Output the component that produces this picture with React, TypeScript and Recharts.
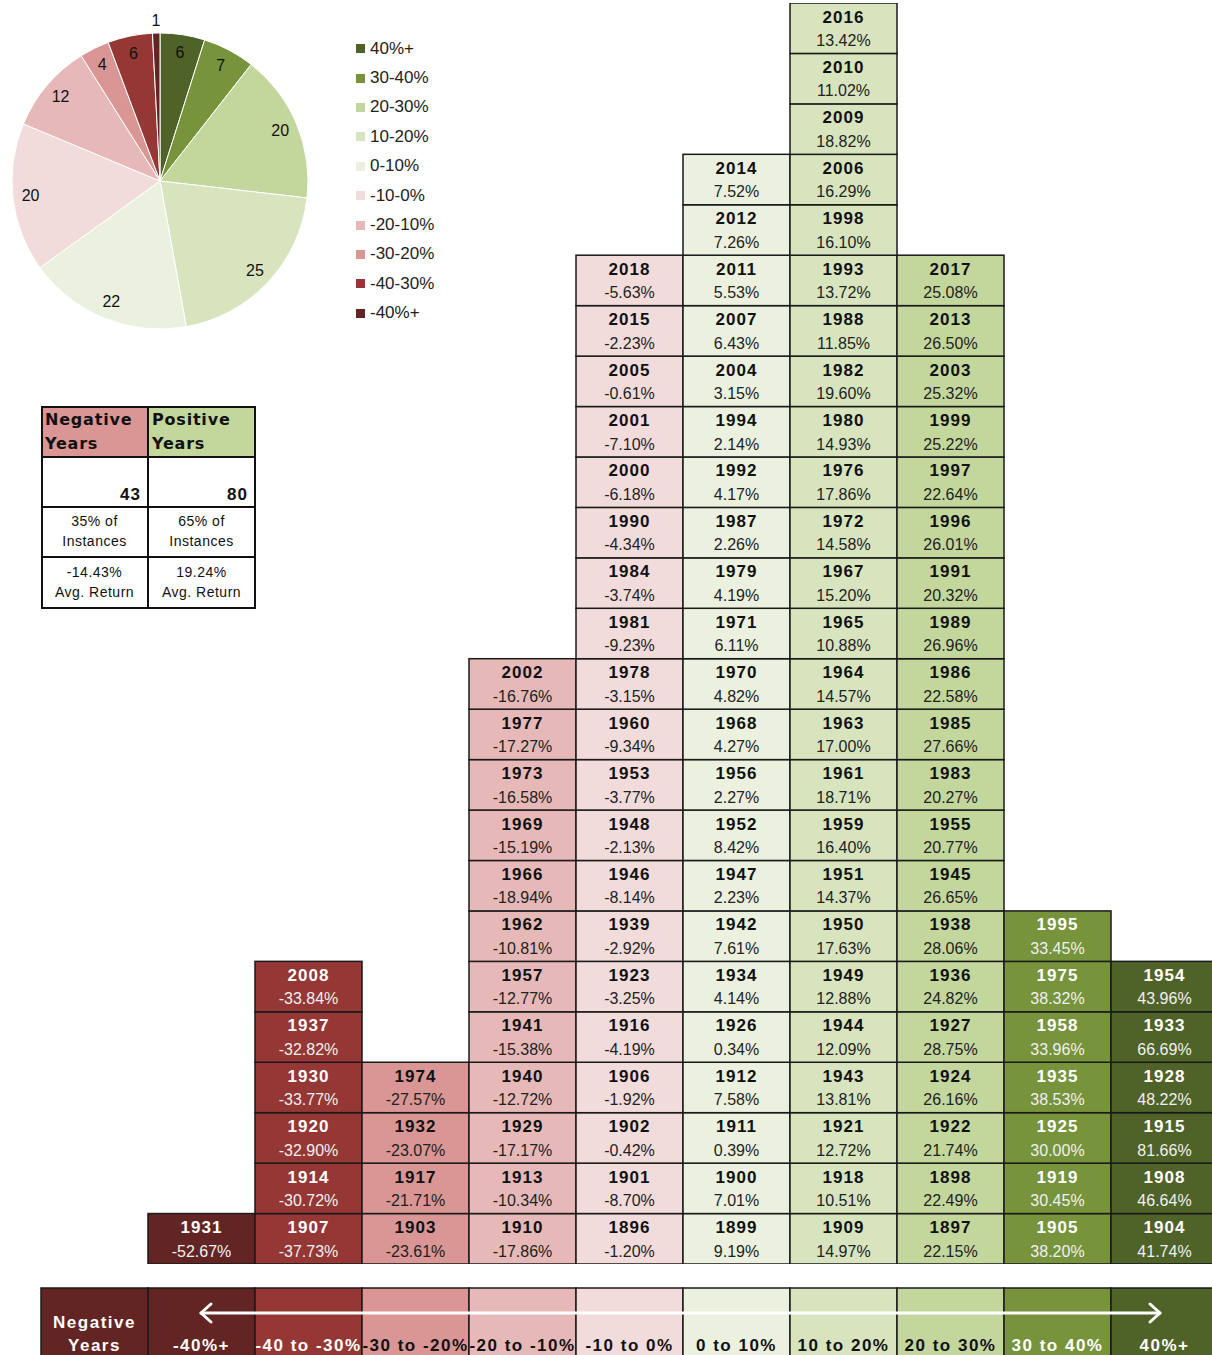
import { BarChart, Bar, XAxis, YAxis, PieChart, Pie, Cell } from "recharts";

// ---- buckets (left to right) ----
const BUCKETS = [
  "-40%+", "-40 to -30%", "-30 to -20%", "-20 to -10%", "-10 to 0%",
  "0 to 10%", "10 to 20%", "20 to 30%", "30 to 40%", "40%+",
];
const PIE_LABELS = [
  "-40%+", "-40-30%", "-30-20%", "-20-10%", "-10-0%",
  "0-10%", "10-20%", "20-30%", "30-40%", "40%+",
];
const COLORS = [
  "#632523", "#953735", "#d99694", "#e6b9b8", "#f2dcdb",
  "#ebf1de", "#d7e4bd", "#c3d69b", "#77933c", "#4f6228",
];
const DARK = [true, true, false, false, false, false, false, false, true, true];

// ---- years per bucket, listed top to bottom as in the grid: [year, return %] ----
const colNeg40Plus: [number, number][] = [[1931, -52.67]];
const colNeg40to30: [number, number][] = [
  [2008, -33.84], [1937, -32.82], [1930, -33.77], [1920, -32.9], [1914, -30.72], [1907, -37.73],
];
const colNeg30to20: [number, number][] = [
  [1974, -27.57], [1932, -23.07], [1917, -21.71], [1903, -23.61],
];
const colNeg20to10: [number, number][] = [
  [2002, -16.76], [1977, -17.27], [1973, -16.58], [1969, -15.19], [1966, -18.94], [1962, -10.81],
  [1957, -12.77], [1941, -15.38], [1940, -12.72], [1929, -17.17], [1913, -10.34], [1910, -17.86],
];
const colNeg10to0: [number, number][] = [
  [2018, -5.63], [2015, -2.23], [2005, -0.61], [2001, -7.1], [2000, -6.18], [1990, -4.34],
  [1984, -3.74], [1981, -9.23], [1978, -3.15], [1960, -9.34], [1953, -3.77], [1948, -2.13],
  [1946, -8.14], [1939, -2.92], [1923, -3.25], [1916, -4.19], [1906, -1.92], [1902, -0.42],
  [1901, -8.7], [1896, -1.2],
];
const col0to10: [number, number][] = [
  [2014, 7.52], [2012, 7.26], [2011, 5.53], [2007, 6.43], [2004, 3.15], [1994, 2.14],
  [1992, 4.17], [1987, 2.26], [1979, 4.19], [1971, 6.11], [1970, 4.82], [1968, 4.27],
  [1956, 2.27], [1952, 8.42], [1947, 2.23], [1942, 7.61], [1934, 4.14], [1926, 0.34],
  [1912, 7.58], [1911, 0.39], [1900, 7.01], [1899, 9.19],
];
const col10to20: [number, number][] = [
  [2016, 13.42], [2010, 11.02], [2009, 18.82], [2006, 16.29], [1998, 16.1], [1993, 13.72],
  [1988, 11.85], [1982, 19.6], [1980, 14.93], [1976, 17.86], [1972, 14.58], [1967, 15.2],
  [1965, 10.88], [1964, 14.57], [1963, 17.0], [1961, 18.71], [1959, 16.4], [1951, 14.37],
  [1950, 17.63], [1949, 12.88], [1944, 12.09], [1943, 13.81], [1921, 12.72], [1918, 10.51],
  [1909, 14.97],
];
const col20to30: [number, number][] = [
  [2017, 25.08], [2013, 26.5], [2003, 25.32], [1999, 25.22], [1997, 22.64], [1996, 26.01],
  [1991, 20.32], [1989, 26.96], [1986, 22.58], [1985, 27.66], [1983, 20.27], [1955, 20.77],
  [1945, 26.65], [1938, 28.06], [1936, 24.82], [1927, 28.75], [1924, 26.16], [1922, 21.74],
  [1898, 22.49], [1897, 22.15],
];
const col30to40: [number, number][] = [
  [1995, 33.45], [1975, 38.32], [1958, 33.96], [1935, 38.53], [1925, 30.0], [1919, 30.45], [1905, 38.2],
];
const col40Plus: [number, number][] = [
  [1954, 43.96], [1933, 66.69], [1928, 48.22], [1915, 81.66], [1908, 46.64], [1904, 41.74],
];

const COLUMNS = [
  colNeg40Plus, colNeg40to30, colNeg30to20, colNeg20to10, colNeg10to0,
  col0to10, col10to20, col20to30, col30to40, col40Plus,
];

// summary table
const AVG_RETURN = [-14.43, 19.24];

const FONT = '"Liberation Sans", Arial, sans-serif';
const HEAD_FONT = '"DejaVu Sans", Verdana, sans-serif';
const MAX_LEVELS = Math.max(...COLUMNS.map((c) => c.length));
const UNIT_ROWS = 25;

// stacked table: one unit per year, bottom = last listed
const gridData = BUCKETS.map((bucket, i) => {
  const cells = COLUMNS[i].slice().reverse();
  const row: any = { bucket, cells };
  cells.forEach((_, k) => { row[`c${k}`] = 1; });
  return row;
});

const pieData = BUCKETS.map((b, i) => ({ label: PIE_LABELS[i], value: COLUMNS[i].length, idx: i })).reverse();

const negCount = COLUMNS.slice(0, 5).reduce((s, c) => s + c.length, 0);
const posCount = COLUMNS.slice(5).reduce((s, c) => s + c.length, 0);
const total = negCount + posCount;

const fmt = (v: number) => `${v.toFixed(2)}%`;

const renderCell = (props: any, level: number) => {
  const { x, y, width, height, payload } = props;
  const cell = payload && payload.cells ? payload.cells[level] : undefined;
  if (!cell || !height) return <g />;
  const i = BUCKETS.indexOf(payload.bucket);
  const dark = DARK[i];
  return (
    <g>
      <rect x={x} y={y} width={width} height={height} fill={COLORS[i]} stroke="#1a1a1a" strokeWidth={1.5} />
      <text x={x + width / 2} y={y + 19.5} textAnchor="middle" fontFamily={FONT} fontWeight="bold"
        fontSize={17} letterSpacing={1} fill={dark ? "#fff" : "#111"}>{cell[0]}</text>
      <text x={x + width / 2} y={y + 43} textAnchor="middle" fontFamily={FONT}
        fontSize={16} fill={dark ? "#f0f0f0" : "#222"}>{fmt(cell[1])}</text>
    </g>
  );
};

const BucketTick = (props: any) => {
  const { x, y, payload, index } = props;
  const i = BUCKETS.indexOf(payload.value);
  const top = y + 24;
  const w = 107;
  return (
    <g>
      {index === 0 && (
        <g>
          <rect x={x - w / 2 - w} y={top} width={w} height={80} fill="#632523" stroke="#1a1a1a" strokeWidth={1.5} />
          <text x={x - w} y={top + 40} textAnchor="middle" fontFamily={FONT} fontWeight="bold" fontSize={17}
            letterSpacing={1.5} fill="#fff">Negative</text>
          <text x={x - w} y={top + 63} textAnchor="middle" fontFamily={FONT} fontWeight="bold" fontSize={17}
            letterSpacing={1.5} fill="#fff">Years</text>
        </g>
      )}
      <rect x={x - w / 2} y={top} width={w} height={80} fill={COLORS[i]} stroke="#1a1a1a" strokeWidth={1.5} />
      <text x={x} y={top + 63} textAnchor="middle" fontFamily={FONT} fontWeight="bold" fontSize={17}
        letterSpacing={1.5} fill={DARK[i] ? "#fff" : "#111"}>{payload.value}</text>
    </g>
  );
};

const RAD = Math.PI / 180;
const pieLabel = (p: any) => {
  const { cx, cy, midAngle, outerRadius, value } = p;
  const r = value <= 1 ? outerRadius + 13 : outerRadius * 0.88;
  const lx = cx + r * Math.cos(-midAngle * RAD);
  const ly = cy + r * Math.sin(-midAngle * RAD);
  return (
    <text x={lx} y={ly} textAnchor="middle" dominantBaseline="central" fontFamily={FONT} fontSize={16} fill="#111">
      {value}
    </text>
  );
};

const PieLegend = () => (
  <div style={{ position: "absolute", left: 356, top: 34, fontFamily: FONT, fontSize: 17, color: "#222" }}>
    {pieData.map((d) => (
      <div key={d.label} style={{ height: 29.4, display: "flex", alignItems: "center" }}>
        <span style={{ width: 9, height: 9, background: COLORS[d.idx], marginRight: 5, display: "inline-block" }} />
        {d.label}
      </div>
    ))}
  </div>
);

const cellBase: any = {
  position: "absolute", boxSizing: "border-box", fontFamily: FONT, color: "#111",
};

const SummaryTable = () => {
  const rows = [406, 457, 507, 557, 608];
  const cols = [41, 148, 255];
  const heads = ["Negative", "Positive"];
  const counts = [negCount, posCount];
  const pcts = [Math.round((negCount / total) * 100), Math.round((posCount / total) * 100)];
  const headBg = [COLORS[2], COLORS[7]];
  return (
    <div>
      {[0, 1].map((c) => (
        <div key={c}>
          <div style={{ ...cellBase, left: cols[c], top: rows[0], width: cols[c + 1] - cols[c], height: rows[1] - rows[0],
            background: headBg[c], padding: "2px 4px", fontFamily: HEAD_FONT, fontWeight: "bold", fontSize: 16,
            letterSpacing: 0.8, lineHeight: "24px" }}>
            {heads[c]}<br />Years
          </div>
          <div style={{ ...cellBase, left: cols[c], top: rows[1], width: cols[c + 1] - cols[c], height: rows[2] - rows[1],
            textAlign: "right", padding: "0 7px", fontWeight: "bold", fontSize: 17, letterSpacing: 1,
            lineHeight: "20px", paddingTop: 28 }}>
            {counts[c]}
          </div>
          <div style={{ ...cellBase, left: cols[c], top: rows[2], width: cols[c + 1] - cols[c], height: rows[3] - rows[2],
            textAlign: "center", fontSize: 14, letterSpacing: 0.5, lineHeight: "20px", paddingTop: 4 }}>
            {pcts[c]}% of<br />Instances
          </div>
          <div style={{ ...cellBase, left: cols[c], top: rows[3], width: cols[c + 1] - cols[c], height: rows[4] - rows[3],
            textAlign: "center", fontSize: 14, letterSpacing: 0.5, lineHeight: "20px", paddingTop: 5 }}>
            {fmt(AVG_RETURN[c])}<br />Avg. Return
          </div>
        </div>
      ))}
      {/* grid lines */}
      <div style={{ position: "absolute", left: 41, top: 406, width: 215, height: 203, border: "2px solid #111", boxSizing: "border-box" }} />
      <div style={{ position: "absolute", left: 147, top: 406, width: 2, height: 203, background: "#111" }} />
      {rows.slice(1, 4).map((r) => (
        <div key={r} style={{ position: "absolute", left: 41, top: r - 1, width: 215, height: 2, background: "#111" }} />
      ))}
    </div>
  );
};

export default function App() {
  return (
    <div style={{ position: "absolute", left: 0, top: 0, width: 1212, height: 1355, overflow: "hidden", background: "#fff" }}>
      <div style={{ position: "absolute", left: 0, top: 0 }}>
        <BarChart width={1218} height={1355} data={gridData} margin={{ top: 3, right: 0, bottom: 0, left: 148 }}
          barCategoryGap={0} barGap={0}>
          <XAxis dataKey="bucket" axisLine={false} tickLine={false} tickSize={0} tickMargin={0} interval={0}
            height={91} tick={<BucketTick />} />
          <YAxis hide domain={[0, UNIT_ROWS]} type="number" allowDataOverflow />
          {Array.from({ length: MAX_LEVELS }, (_, k) => (
            <Bar key={k} dataKey={`c${k}`} stackId="years" isAnimationActive={false}
              shape={(p: any) => renderCell(p, k)} />
          ))}
        </BarChart>
      </div>

      <div style={{ position: "absolute", left: 0, top: 0 }}>
        <PieChart width={340} height={340} margin={{ top: 0, right: 0, bottom: 0, left: 0 }}>
          <Pie data={pieData} dataKey="value" nameKey="label" cx={160} cy={181} outerRadius={148}
            startAngle={90} endAngle={-270} stroke="#fff" strokeWidth={1} label={pieLabel} labelLine={false}
            isAnimationActive={false}>
            {pieData.map((d) => <Cell key={d.label} fill={COLORS[d.idx]} />)}
          </Pie>
        </PieChart>
      </div>
      <PieLegend />

      <SummaryTable />

      <svg width={1212} height={1355} style={{ position: "absolute", left: 0, top: 0, pointerEvents: "none" }}>
        <g stroke="#fff" strokeWidth={3} fill="none" strokeLinecap="round" strokeLinejoin="round">
          <line x1={201} y1={1313} x2={1160} y2={1313} />
          <polyline points="211,1304 201,1313 211,1322" />
          <polyline points="1150,1304 1160,1313 1150,1322" />
        </g>
      </svg>
    </div>
  );
}
